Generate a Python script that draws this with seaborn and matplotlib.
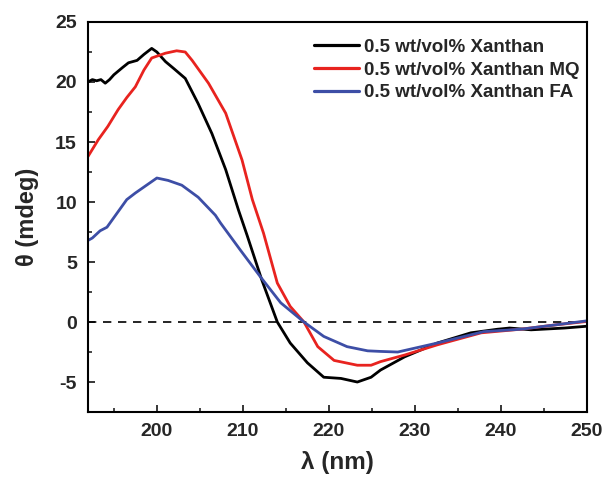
import numpy as np
import pandas as pd
import seaborn as sns
import matplotlib
matplotlib.use('Agg')
import matplotlib.pyplot as plt
from matplotlib.ticker import MultipleLocator

sns.set_style('ticks')
plt.rcParams['font.family'] = ['Liberation Sans', 'DejaVu Sans']
plt.rcParams['font.weight'] = 'bold'
plt.rcParams['axes.unicode_minus'] = False

# wavelength (nm) and ellipticity (mdeg)
black_x = [192, 192.5, 193, 193.5, 194, 194.5, 195, 196, 196.7, 197.7, 198.5, 199.4,
           200, 201, 202, 203.3, 204.8, 206.4, 208, 209.5, 210.5, 212.2, 214, 215.5,
           217.5, 219.4, 221.4, 223.3, 224.9, 226, 228.8, 232.6, 236.5, 239.6, 241,
           243.5, 247.4, 250]
black_y = [20.0, 20.2, 20.1, 20.2, 19.9, 20.2, 20.6, 21.2, 21.6, 21.8, 22.3, 22.8,
           22.5, 21.7, 21.1, 20.3, 18.2, 15.7, 12.7, 9.3, 7.2, 3.5, 0.0, -1.75,
           -3.4, -4.6, -4.7, -5.0, -4.6, -4.0, -2.9, -1.75, -0.9, -0.6, -0.5,
           -0.65, -0.5, -0.35]

red_x = [192, 193.2, 194.3, 195.5, 196.5, 197.5, 198.5, 199.4, 201, 202.3, 203.3,
         204.1, 206, 208, 209.9, 211.1, 212.4, 214, 215.5, 217.1, 218.7, 220.6,
         223.3, 224.9, 226, 228.8, 232.6, 237.7, 242.3, 246.2, 250]
red_y = [13.8, 15.2, 16.3, 17.7, 18.7, 19.6, 21.0, 22.0, 22.4, 22.6, 22.5,
         21.8, 19.9, 17.4, 13.5, 10.2, 7.4, 3.25, 1.3, 0.0, -2.05, -3.2,
         -3.6, -3.6, -3.3, -2.75, -1.9, -0.9, -0.6, -0.25, 0.05]

blue_x = [192, 192.5, 193.4, 194.2, 195.5, 196.5, 197.5, 198.8, 200, 201.3, 202.9,
          204.8, 206.8, 207.4, 209.7, 212, 214.4, 217.1, 219.4, 222.1, 224.5, 226,
          228, 232.6, 238, 242.3, 246.2, 250]
blue_y = [6.8, 7.0, 7.6, 7.9, 9.2, 10.2, 10.75, 11.4, 12.0, 11.8, 11.4,
          10.4, 8.9, 8.25, 6.0, 3.8, 1.6, 0.0, -1.2, -2.05, -2.4, -2.45,
          -2.5, -1.75, -0.8, -0.6, -0.25, 0.1]

labels = ['0.5 wt/vol% Xanthan', '0.5 wt/vol% Xanthan MQ', '0.5 wt/vol% Xanthan FA']
colors = ['#000000', '#e8231f', '#3d4ea6']

fig = plt.figure(figsize=(6.03, 4.78), dpi=100)
ax = fig.add_axes([0.146, 0.138, 0.8275, 0.816])

ax.axhline(0, color='black', linestyle=(0, (5, 4)), linewidth=1.2, zorder=1)
for xs, ys, lab, c in zip([black_x, red_x, blue_x], [black_y, red_y, blue_y], labels, colors):
    sns.lineplot(x=xs, y=ys, ax=ax, color=c, linewidth=2.0, label=lab, sort=False)

ax.set_xlim(192, 250)
ax.set_ylim(-7.5, 25)
ax.xaxis.set_major_locator(MultipleLocator(10))
ax.xaxis.set_minor_locator(MultipleLocator(5))
ax.yaxis.set_major_locator(MultipleLocator(5))
ax.yaxis.set_minor_locator(MultipleLocator(2.5))
ax.tick_params(which='major', direction='in', length=5, width=1.3, labelsize=14, pad=8)
ax.tick_params(which='minor', direction='in', length=3, width=1.2)
ax.tick_params(top=False, right=False)
for lab in ax.get_xticklabels() + ax.get_yticklabels():
    lab.set_fontweight('bold')

ax.set_xlabel('λ (nm)', fontsize=17.5, fontweight='bold', labelpad=8)
ax.set_ylabel('θ (mdeg)', fontsize=17, fontweight='bold', labelpad=12)

for spine in ax.spines.values():
    spine.set_visible(True)
    spine.set_color('black')
    spine.set_linewidth(1.5)

leg = ax.legend(loc='upper right', bbox_to_anchor=(1.0, 0.976), frameon=False,
                handlelength=2.4, handletextpad=0.25, labelspacing=0.3,
                borderaxespad=0.0, prop={'weight': 'bold', 'size': 13.5})
for line in leg.get_lines():
    line.set_linewidth(2.3)

fig.savefig('out.png', dpi=100)
